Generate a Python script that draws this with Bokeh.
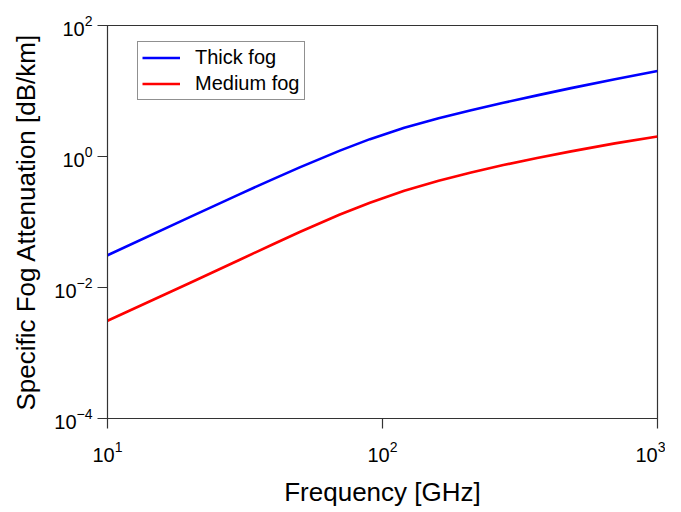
from bokeh.plotting import figure
from bokeh.models import FixedTicker, Legend, LegendItem, ColumnDataSource
from bokeh.embed import file_html
from bokeh.resources import INLINE

freq = [10, 20, 30, 40, 50, 70, 90, 120, 160, 210, 275, 365, 485, 700, 1000]
thick_fog = [0.031, 0.1197, 0.262, 0.452, 0.682, 1.23, 1.84, 2.74, 3.83, 5.09, 6.61, 8.57, 11.07, 15.1, 20.2]
medium_fog = [0.0031, 0.0118, 0.0261, 0.0458, 0.0703, 0.130, 0.197, 0.300, 0.427, 0.570, 0.741, 0.946, 1.197, 1.585, 2.018]
x_ticks = [10, 100, 1000]
y_ticks = [1e-4, 1e-2, 1, 100]

FONT = "Liberation Sans"

p = figure(width=665, height=510, x_axis_type="log", y_axis_type="log",
           x_range=(10, 1000), y_range=(1e-4, 100),
           output_backend="svg", toolbar_location=None,
           min_border_left=107, min_border_right=8, min_border_top=25, min_border_bottom=92)

src = ColumnDataSource(dict(f=freq, thick=thick_fog, medium=medium_fog))
r1 = p.line("f", "thick", source=src, line_color="#0000ff", line_width=2.6, line_join="round")
r2 = p.line("f", "medium", source=src, line_color="#ff0000", line_width=2.6, line_join="round")

p.xgrid.visible = False
p.ygrid.visible = False
p.outline_line_color = "#333333"
p.outline_line_width = 1.2
p.background_fill_color = "white"
p.border_fill_color = "white"

for ax, ticks in ((p.xaxis[0], x_ticks), (p.yaxis[0], y_ticks)):
    ax.ticker = FixedTicker(ticks=ticks)
    ax.major_tick_in = 0
    ax.major_tick_out = 10
    ax.minor_tick_in = 0
    ax.minor_tick_out = 0
    ax.axis_line_color = "#333333"
    ax.major_tick_line_color = "#333333"
    ax.major_tick_line_width = 1.2
    ax.major_label_text_font = FONT
    ax.major_label_text_font_size = "20px"
    ax.major_label_text_color = "black"
    ax.axis_label_text_font = FONT
    ax.axis_label_text_font_size = "26px"
    ax.axis_label_text_font_style = "normal"
    ax.axis_label_text_color = "black"

p.xaxis.axis_label = "Frequency [GHz]"
p.yaxis.axis_label = "Specific Fog Attenuation [dB/km]"
p.xaxis.major_label_standoff = 12
p.xaxis.axis_label_standoff = 12
p.yaxis.major_label_standoff = 5
p.yaxis.axis_label_standoff = 10

legend = Legend(items=[LegendItem(label="Thick fog", renderers=[r1]),
                       LegendItem(label="Medium fog", renderers=[r2])],
                location=(30, 318))
legend.label_text_font = FONT
legend.label_text_font_size = "20px"
legend.label_text_color = "black"
legend.glyph_width = 38
legend.glyph_height = 23
legend.label_standoff = 15
legend.spacing = 3
legend.padding = 4
legend.margin = 0
legend.border_line_color = "#222222"
legend.border_line_width = 1
legend.background_fill_alpha = 1.0
p.add_layout(legend)

open("out.html", "w").write(file_html(p, INLINE))
